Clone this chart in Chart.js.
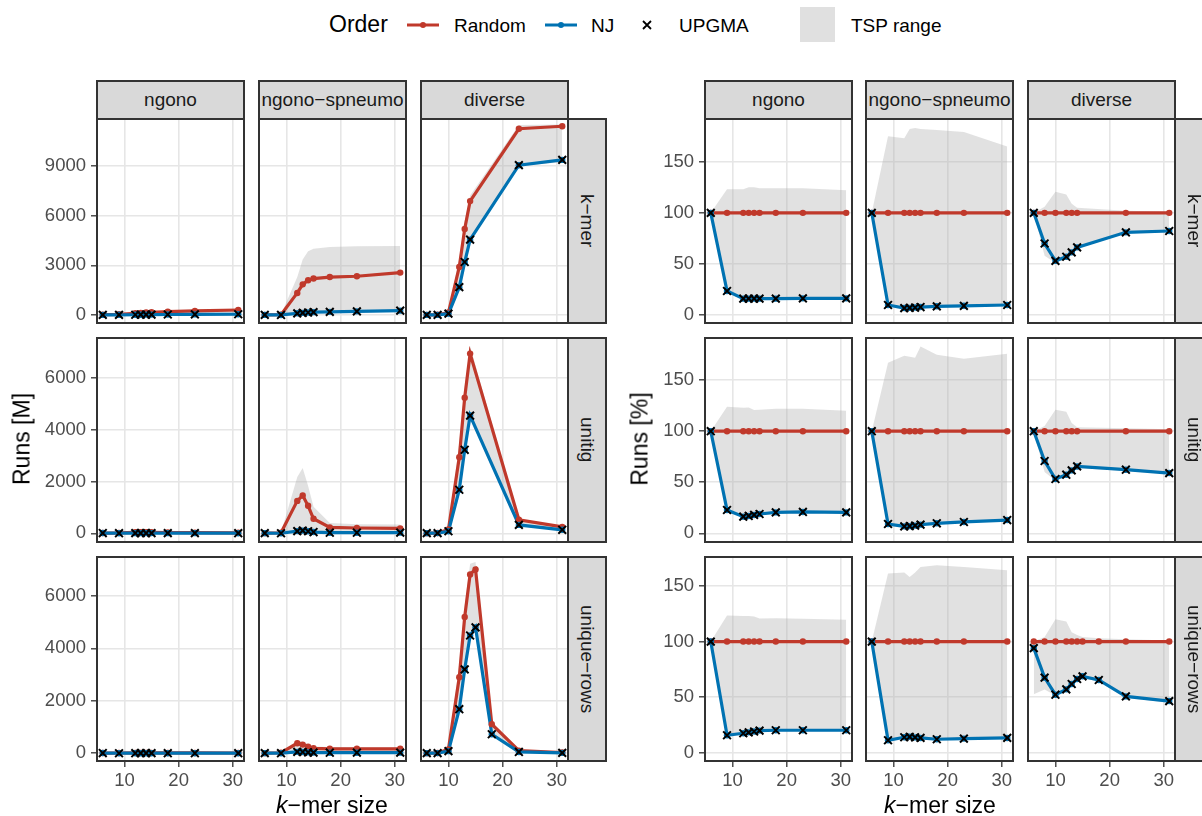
<!DOCTYPE html>
<html>
<head>
<meta charset="utf-8">
<script src="https://cdn.jsdelivr.net/npm/chart.js@4.4.1/dist/chart.umd.min.js"></script>
<style>
  body { margin: 0; width: 1202px; height: 816px; background: #fff; position: relative; overflow: hidden;
         font-family: "Liberation Sans", Arial, sans-serif; }
  .abs { position: absolute; }
  .frame { position: absolute; box-sizing: border-box; border: 2px solid #333; pointer-events: none; }
  .strip { position: absolute; box-sizing: border-box; border: 2px solid #333; background: #D9D9D9;
           color: #1A1A1A; font-size: 19px; display: flex; align-items: center; justify-content: center;
           white-space: nowrap; overflow: hidden; }
  .strip.side { writing-mode: vertical-rl; }
  .title { position: absolute; font-size: 23px; color: #000; white-space: nowrap; line-height: 1;
           transform: translate(-50%, -50%); }
  .leg { position: absolute; font-size: 19px; color: #000; line-height: 1; white-space: nowrap; }
</style>
</head>
<body>
<script>
// k-mer sizes on the x axis
const kStd = [6, 9, 12, 13, 14, 15, 18, 23, 31];            // ngono, ngono-spneumo
const kDiv = [6, 8, 10, 12, 13, 14, 23, 31];                // diverse, k-mer + unitig
const kDivRows = [6, 8, 10, 12, 13, 14, 15, 18, 23, 31];    // diverse, unique-rows

const datasetNames = ["ngono", "ngono−spneumo", "diverse"];
const encodings = ["k−mer", "unitig", "unique−rows"];

// ---- Runs [M] ----
// k-mer
const mKmerNgonoRandom = [20, 40, 100, 130, 150, 165, 200, 250, 300];
const mKmerNgonoNJ     = [5, 10, 15, 18, 20, 22, 28, 35, 45];
const mKmerNgonoTspLo  = [5, 9, 14, 17, 19, 21, 27, 34, 44];
const mKmerNgonoTspHi  = [20, 50, 125, 160, 185, 205, 245, 310, 365];
const mKmerSpnRandom   = [5, 20, 1330, 1850, 2100, 2200, 2290, 2340, 2560];
const mKmerSpnNJ       = [5, 2, 100, 130, 150, 170, 190, 220, 260];
const mKmerSpnTspLo    = [5, 2, 90, 120, 140, 160, 180, 210, 250];
const mKmerSpnTspHi    = [5, 35, 2300, 3350, 3850, 4000, 4100, 4150, 4170];
const mKmerDivRandom   = [5, 10, 150, 2900, 5200, 6880, 11250, 11400];
const mKmerDivNJ       = [5, 7, 80, 1680, 3200, 4550, 9050, 9370];
const mKmerDivTspLo    = [5, 6, 77, 1600, 3120, 4470, 9000, 9240];
const mKmerDivTspHi    = [5, 11, 180, 3420, 5670, 7220, 11480, 11510];
// unitig
const mUnitigNgonoRandom = [10, 15, 40, 45, 45, 40, 30, 25, 20];
const mUnitigNgonoNJ     = [10, 3.5, 6.5, 7.6, 8.1, 7.6, 6.2, 5.2, 4.1];
const mUnitigNgonoTspLo  = [10, 3.3, 6.2, 7.2, 7.7, 7.2, 5.9, 5, 3.9];
const mUnitigNgonoTspHi  = [10, 18.6, 49, 55, 54, 48, 36.6, 30.5, 24];
const mUnitigSpnRandom   = [5, 20, 1250, 1460, 1060, 560, 230, 205, 190];
const mUnitigSpnNJ       = [5, 1.8, 85, 102, 80, 48, 23, 23, 25];
const mUnitigSpnTspLo    = [5, 1.7, 78, 93, 73, 44, 21, 21.5, 23.4];
const mUnitigSpnTspHi    = [5, 33, 2170, 2520, 1820, 1020, 400, 350, 335];
const mUnitigDivRandom   = [5, 10, 150, 2930, 5230, 6930, 520, 245];
const mUnitigDivNJ       = [5, 7, 80, 1680, 3220, 4540, 324, 135];
const mUnitigDivTspLo    = [5, 6, 77, 1625, 3140, 4435, 317, 130];
const mUnitigDivTspHi    = [5, 10.5, 182, 3490, 5650, 7210, 536, 250];
// unique-rows
const mRowsNgonoRandom = [8, 10, 15, 15, 15, 14, 12, 12, 10];
const mRowsNgonoNJ     = [8, 1.6, 2.7, 2.8, 2.9, 2.8, 2.4, 2.4, 2];
const mRowsNgonoTspLo  = [8, 1.5, 2.6, 2.7, 2.8, 2.7, 2.3, 2.3, 1.9];
const mRowsNgonoTspHi  = [8, 12.4, 18.5, 18.5, 18.4, 16.9, 14.5, 14.5, 12];
const mRowsSpnRandom   = [5, 20, 380, 330, 250, 190, 170, 170, 170];
const mRowsSpnNJ       = [5, 2.3, 54, 48, 35, 26, 21, 22, 23];
const mRowsSpnTspLo    = [5, 2.2, 51, 45, 33, 24, 20, 21, 22];
const mRowsSpnTspHi    = [5, 32, 500, 440, 340, 260, 235, 232, 230];
const mRowsDivRandom   = [5, 10, 150, 2900, 5200, 6820, 7010, 1110, 100, 30];
const mRowsDivNJ       = [4.7, 6.8, 80, 1680, 3200, 4490, 4800, 725, 50, 15];
const mRowsDivTspLo    = [2.6, 5.7, 77, 1625, 3170, 4430, 4730, 710, 49, 13.5];
const mRowsDivTspHi    = [5, 10.4, 180, 3420, 5640, 7230, 7290, 1140, 102, 30];

// ---- Runs [%] (relative to Random) ----
const pRandomStd     = [100, 100, 100, 100, 100, 100, 100, 100, 100];
const pRandomDiv     = [100, 100, 100, 100, 100, 100, 100, 100];
const pRandomDivRows = [100, 100, 100, 100, 100, 100, 100, 100, 100, 100];
// k-mer
const pKmerNgonoNJ    = [100, 23.5, 16, 16, 16, 16, 16, 16.3, 16.3];
const pKmerNgonoTspLo = [100, 22, 15, 15, 15, 15, 15, 15.5, 15.5];
const pKmerNgonoTspHi = [100, 123, 123, 125, 125, 124, 124, 124, 122];
const pKmerSpnNJ      = [100, 9.8, 6.8, 7, 7.3, 7.8, 8.5, 9, 9.8];
const pKmerSpnTspLo   = [100, 9, 6, 6.3, 6.6, 7, 7.8, 8.3, 9];
const pKmerSpnTspHi   = [100, 175, 173, 182, 183, 182, 181, 179, 165];
const pKmerDivNJ      = [100, 70, 53, 57, 61.3, 66.2, 80.9, 82.2];
const pKmerDivTspLo   = [100, 58, 51, 55, 60, 65, 80, 81];
const pKmerDivTspHi   = [100, 106, 120.6, 118, 109, 105, 102, 101];
// unitig
const pUnitigNgonoNJ    = [100, 22.8, 16.3, 17, 18, 18.9, 20.5, 20.9, 20.5];
const pUnitigNgonoTspLo = [100, 21.5, 15.5, 16, 17, 18, 19.5, 20, 19.5];
const pUnitigNgonoTspHi = [100, 124, 123, 123.3, 120.7, 121, 122, 122, 120];
const pUnitigSpnNJ      = [100, 9.1, 6.8, 7, 7.5, 8.5, 9.8, 11.1, 13];
const pUnitigSpnTspLo   = [100, 8.5, 6.2, 6.4, 6.9, 7.9, 9.2, 10.5, 12.3];
const pUnitigSpnTspHi   = [100, 167, 174, 173, 172, 183, 175, 171, 176];
const pUnitigDivNJ      = [100, 70.8, 53.2, 57.4, 61.6, 65.5, 62.3, 59];
const pUnitigDivTspLo   = [99, 60, 51.5, 55.5, 60, 64, 61, 58];
const pUnitigDivTspHi   = [100, 105, 121, 119, 108, 104, 103, 102];
// unique-rows
const pRowsNgonoNJ    = [100, 15.9, 17.7, 18.5, 19.3, 20.1, 20.4, 20.4, 20.4];
const pRowsNgonoTspLo = [100, 15, 17, 17.7, 18.5, 19.3, 19.6, 19.6, 19.6];
const pRowsNgonoTspHi = [100, 123.5, 123, 123, 122.6, 120.8, 121, 120.5, 119.6];
const pRowsSpnNJ      = [100, 11.4, 14.1, 14.5, 14, 13.5, 12.3, 12.9, 13.5];
const pRowsSpnTspLo   = [100, 10.8, 13.4, 13.8, 13.3, 12.8, 11.7, 12.2, 12.8];
const pRowsSpnTspHi   = [100, 161, 162, 158, 162, 167, 168.6, 167, 164];
const pRowsDivNJ      = [94.1, 67.6, 52.3, 57.1, 61.9, 66.4, 68.8, 65.5, 50.8, 46.6];
const pRowsDivTspLo   = [52.6, 57, 51.5, 56, 61, 65, 67.5, 64, 49.5, 45];
const pRowsDivTspHi   = [100, 104, 120, 118, 108.4, 106, 104, 103, 102, 101];

// axis limits and ticks
const xLim = [4.75, 32.25];
const xTicks = [10, 20, 30];
const yLimM = [[-545, 11900], [-374, 7570], [-333, 7521]];
const yTicksM = [[0, 3000, 6000, 9000], [0, 2000, 4000, 6000], [0, 2000, 4000, 6000]];
const yLimPct = [[-8.8, 192.8], [-9.5, 192.3], [-8.1, 176.8]];
const yTicksPct = [0, 50, 100, 150];

const red = "#C0392B";
const blue = "#0072B2";
const tspFill = "rgba(170,170,170,0.35)";

// layout
const blockLeft = [[96, 258, 420], [704, 865, 1027]];
const rowTop = [118, 337, 556];
const PW = 149, PH = 206;

// UPGMA crosses sit on the NJ values in every panel, so they reuse the NJ arrays
const panels = [
  { b: 0, r: 0, c: 0, k: kStd, random: mKmerNgonoRandom, nj: mKmerNgonoNJ, lo: mKmerNgonoTspLo, hi: mKmerNgonoTspHi },
  { b: 0, r: 0, c: 1, k: kStd, random: mKmerSpnRandom, nj: mKmerSpnNJ, lo: mKmerSpnTspLo, hi: mKmerSpnTspHi },
  { b: 0, r: 0, c: 2, k: kDiv, random: mKmerDivRandom, nj: mKmerDivNJ, lo: mKmerDivTspLo, hi: mKmerDivTspHi },
  { b: 0, r: 1, c: 0, k: kStd, random: mUnitigNgonoRandom, nj: mUnitigNgonoNJ, lo: mUnitigNgonoTspLo, hi: mUnitigNgonoTspHi },
  { b: 0, r: 1, c: 1, k: kStd, random: mUnitigSpnRandom, nj: mUnitigSpnNJ, lo: mUnitigSpnTspLo, hi: mUnitigSpnTspHi },
  { b: 0, r: 1, c: 2, k: kDiv, random: mUnitigDivRandom, nj: mUnitigDivNJ, lo: mUnitigDivTspLo, hi: mUnitigDivTspHi },
  { b: 0, r: 2, c: 0, k: kStd, random: mRowsNgonoRandom, nj: mRowsNgonoNJ, lo: mRowsNgonoTspLo, hi: mRowsNgonoTspHi },
  { b: 0, r: 2, c: 1, k: kStd, random: mRowsSpnRandom, nj: mRowsSpnNJ, lo: mRowsSpnTspLo, hi: mRowsSpnTspHi },
  { b: 0, r: 2, c: 2, k: kDivRows, random: mRowsDivRandom, nj: mRowsDivNJ, lo: mRowsDivTspLo, hi: mRowsDivTspHi },
  { b: 1, r: 0, c: 0, k: kStd, random: pRandomStd, nj: pKmerNgonoNJ, lo: pKmerNgonoTspLo, hi: pKmerNgonoTspHi },
  { b: 1, r: 0, c: 1, k: kStd, random: pRandomStd, nj: pKmerSpnNJ, lo: pKmerSpnTspLo, hi: pKmerSpnTspHi },
  { b: 1, r: 0, c: 2, k: kDiv, random: pRandomDiv, nj: pKmerDivNJ, lo: pKmerDivTspLo, hi: pKmerDivTspHi },
  { b: 1, r: 1, c: 0, k: kStd, random: pRandomStd, nj: pUnitigNgonoNJ, lo: pUnitigNgonoTspLo, hi: pUnitigNgonoTspHi },
  { b: 1, r: 1, c: 1, k: kStd, random: pRandomStd, nj: pUnitigSpnNJ, lo: pUnitigSpnTspLo, hi: pUnitigSpnTspHi },
  { b: 1, r: 1, c: 2, k: kDiv, random: pRandomDiv, nj: pUnitigDivNJ, lo: pUnitigDivTspLo, hi: pUnitigDivTspHi },
  { b: 1, r: 2, c: 0, k: kStd, random: pRandomStd, nj: pRowsNgonoNJ, lo: pRowsNgonoTspLo, hi: pRowsNgonoTspHi },
  { b: 1, r: 2, c: 1, k: kStd, random: pRandomStd, nj: pRowsSpnNJ, lo: pRowsSpnTspLo, hi: pRowsSpnTspHi },
  { b: 1, r: 2, c: 2, k: kDivRows, random: pRandomDivRows, nj: pRowsDivNJ, lo: pRowsDivTspLo, hi: pRowsDivTspHi },
];

function pts(ks, ys) {
  return ks.map((k, i) => ({ x: k, y: ys[i] }));
}

function addDiv(cls, left, top, w, h, text) {
  const d = document.createElement("div");
  d.className = cls;
  d.style.left = left + "px";
  d.style.top = top + "px";
  if (w != null) d.style.width = w + "px";
  if (h != null) d.style.height = h + "px";
  if (text) d.innerHTML = text;
  document.body.appendChild(d);
  return d;
}

const tickFont = { family: "Liberation Sans", size: 18.5 };

// keep the label overflow from shrinking the plot area
function noPad(s) {
  s.paddingTop = 0;
  s.paddingBottom = 0;
  s.paddingLeft = 0;
  s.paddingRight = 0;
}

function makePanel(p) {
  const left = blockLeft[p.b][p.c];
  const top = rowTop[p.r];
  const showY = p.c === 0;
  const showX = p.r === 2;
  const padL = showY ? 70 : 0;
  const padB = showX ? 34 : 0;
  const lim = p.b === 0 ? yLimM[p.r] : yLimPct[p.r];
  const yt = p.b === 0 ? yTicksM[p.r] : yTicksPct;

  const canvas = document.createElement("canvas");
  canvas.width = PW + padL;
  canvas.height = PH + padB;
  canvas.style.position = "absolute";
  canvas.style.left = (left - padL) + "px";
  canvas.style.top = top + "px";
  document.body.appendChild(canvas);

  new Chart(canvas, {
    type: "line",
    data: {
      datasets: [
        { data: pts(p.k, p.lo), borderWidth: 0, pointRadius: 0, fill: false, order: 6 },
        { data: pts(p.k, p.hi), borderWidth: 0, pointRadius: 0, fill: "-1", backgroundColor: tspFill, order: 5 },
        { data: pts(p.k, p.random), borderColor: red, borderWidth: 3.2, pointRadius: 0, order: 4 },
        { data: pts(p.k, p.nj), borderColor: blue, borderWidth: 3.2, pointRadius: 0, order: 3 },
        { data: pts(p.k, p.random), showLine: false, pointRadius: 3.2, pointBorderWidth: 0, pointBackgroundColor: red, order: 2 },
        { data: pts(p.k, p.nj), showLine: false, pointRadius: 3.2, pointBorderWidth: 0, pointBackgroundColor: blue, order: 1 },
        { data: pts(p.k, p.nj), showLine: false, pointStyle: "crossRot", pointRadius: 5.5,
          pointBorderColor: "#000", pointBorderWidth: 2, order: 0 },
      ],
    },
    options: {
      responsive: false,
      animation: false,
      devicePixelRatio: 1,
      events: [],
      layout: { padding: 0, autoPadding: false },
      plugins: { legend: { display: false }, tooltip: { enabled: false } },
      scales: {
        x: {
          type: "linear", min: xLim[0], max: xLim[1],
          afterBuildTicks: (a) => { a.ticks = xTicks.map((v) => ({ value: v })); },
          afterFit: (s) => { s.height = padB; noPad(s); },
          grid: { color: "#E6E6E6", lineWidth: 1.6, drawTicks: showX, tickLength: 5, tickColor: "#333", tickWidth: 1.3 },
          border: { display: false },
          ticks: { display: showX, font: tickFont, color: "#4D4D4D", padding: 3, maxRotation: 0, autoSkip: false,
                   callback: (v) => String(v) },
        },
        y: {
          type: "linear", min: lim[0], max: lim[1],
          afterBuildTicks: (a) => { a.ticks = yt.map((v) => ({ value: v })); },
          afterFit: (s) => { s.width = padL; noPad(s); },
          grid: { color: "#E6E6E6", lineWidth: 1.6, drawTicks: showY, tickLength: 5, tickColor: "#333", tickWidth: 1.3 },
          border: { display: false },
          ticks: { display: showY, font: tickFont, color: "#4D4D4D", padding: 5, autoSkip: false,
                   callback: (v) => String(v) },
        },
      },
    },
  });

  addDiv("frame", left, top, PW, PH);
}

panels.forEach(makePanel);

// strips
blockLeft.forEach((cols) => {
  cols.forEach((x, i) => addDiv("strip", x, 80, PW, 40, datasetNames[i]));
  rowTop.forEach((y, i) => addDiv("strip side", cols[2] + PW - 2, y, 40, PH, encodings[i]));
});

// axis titles
let t = addDiv("title", 22, 439, null, null, "Runs [M]");
t.style.transform = "translate(-50%, -50%) rotate(-90deg)";
t = addDiv("title", 640, 439, null, null, "Runs [%]");
t.style.transform = "translate(-50%, -50%) rotate(-90deg)";
addDiv("title", 332, 805, null, null, "<i>k</i>−mer size");
addDiv("title", 940, 805, null, null, "<i>k</i>−mer size");

// legend
const legendLabels = ["Random", "NJ", "UPGMA", "TSP range"];
t = addDiv("leg", 329, 13, null, null, "Order");
t.style.fontSize = "23px";
function key(x, w, svg) {
  addDiv("abs", x, 0, w, 50, `<svg width="${w}" height="50" style="display:block">${svg}</svg>`);
}
function lineKey(color) {
  return `<line x1="0" y1="25" x2="32" y2="25" stroke="${color}" stroke-width="3"/><circle cx="16" cy="25" r="3" fill="${color}"/>`;
}
key(407, 32, lineKey(red));
addDiv("leg", 454, 16, null, null, legendLabels[0]);
key(545, 32, lineKey(blue));
addDiv("leg", 591, 16, null, null, legendLabels[1]);
key(640, 14, `<path d="M3 21 L11 29 M11 21 L3 29" stroke="#000" stroke-width="1.8"/>`);
addDiv("leg", 679, 16, null, null, legendLabels[2]);
const sq = addDiv("abs", 800, 7, 35, 35);
sq.style.background = "#E0E0E0";
addDiv("leg", 851, 16, null, null, legendLabels[3]);
</script>
</body>
</html>
